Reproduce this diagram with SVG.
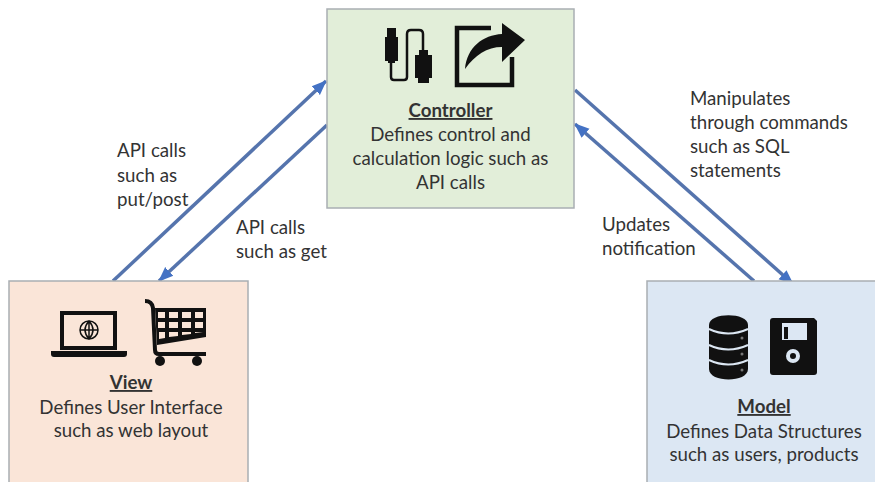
<svg xmlns="http://www.w3.org/2000/svg" width="875" height="482" viewBox="0 0 875 482">
<style>
text{font-family:Lato,"Open Sans","Liberation Sans",sans-serif;font-size:18.7px;fill:#333}
.c{text-anchor:middle}
.t{text-decoration:underline;font-weight:700}
.box{stroke:#a9aeb3;stroke-width:1.5}
.a{fill:none;stroke:#5574ad;stroke-width:3.500;marker-end:url(#ah)}
.i{fill:#111}
.l{fill:none;stroke:#111}
</style>
<defs><marker id="ah" markerUnits="userSpaceOnUse" markerWidth="16" markerHeight="14" refX="14" refY="7" orient="auto"><path d="M0 1L15 7L0 13Z" fill="#4472c4"/></marker></defs>
<rect width="875" height="482" fill="#fff"/>
<g id="connectors">
<line class="a" x1="113" y1="281" x2="326" y2="81"/>
<line class="a" x1="327" y1="125" x2="159" y2="281"/>
<line class="a" x1="575" y1="90" x2="793" y2="284"/>
<line class="a" x1="754" y1="281" x2="575" y2="124"/>
</g>
<g id="controller">
<rect class="box" x="327" y="9" width="247" height="199" fill="#e2eed9"/>
<path class="i" d="M387 28h9v9h2v24h-3v2h-7v-2h-3V37h2z"/>
<path class="l" stroke-width="2.500" d="M391 62v15q0 3 3 3h10q3 0 3-3V34q0-4 4-4h8q4 0 4 4v16"/>
<path class="i" d="M419 50h9v5h4v23h-3v5h-11v-5h-3V55h4z"/>
<path class="l" stroke-width="4.500" d="M491 28h-34v57h55V57"/>
<path class="i" d="M465 69c2-22 18-34 37-35V23l23 17-23 22V47c-15 0-27 8-37 22z"/>
<text class="c t" x="450.500" y="117">Controller</text>
<text class="c" x="450.500" y="141">Defines control and</text>
<text class="c" x="450.500" y="165">calculation logic such as</text>
<text class="c" x="450.500" y="189">API calls</text>
</g>
<g id="view">
<rect x="9" y="281" width="239" height="202" fill="#fae5d8"/>
<path class="box" d="M9 482V281H248V482" fill="none"/>
<path class="l" stroke-width="4" d="M62 313h53v35H62z"/>
<path class="i" d="M51 351h76v3q0 3-3 3H54q-3 0-3-3z"/>
<circle class="l" stroke-width="1.500" cx="89" cy="330" r="9"/>
<path class="l" stroke-width="1.500" d="M80 330h18M89 321v18M89 321q-8 9 0 18M89 321q8 9 0 18"/>
<path class="l" stroke-width="4" d="M145 301q7 0 8 7l2 42q0 4 4 4h47"/>
<path class="i" fill-rule="evenodd" d="M155 308h51v29l-49 8zM158 312v6h7v-6zM169 312v6h9v-6zM182 312v6h9v-6zM195 312v6h8v-6zM158 322v6h7v-6zM169 322v6h9v-6zM182 322v6h9v-6zM195 322v6h8v-6zM159 332v7l6-1v-6zM169 332v5l9-1v-4zM182 332v3l9-1v-2zM195 332v1l8-1z"/>
<circle class="i" cx="160" cy="361" r="5"/><circle class="i" cx="197" cy="361" r="5"/>
<text class="c t" x="131" y="389">View</text>
<text class="c" x="131" y="414">Defines User Interface</text>
<text class="c" x="131" y="437">such as web layout</text>
</g>
<g id="model">
<rect x="647" y="281" width="228" height="201" fill="#dce7f3"/>
<path class="box" d="M647 482V281H875" fill="none"/>
<path class="i" d="M709 325c0-13 39-13 39 0v44c0 14-39 14-39 0z"/>
<path fill="none" stroke="#dce7f3" stroke-width="2" d="M709 329q19 9 39 0M709 345q19 9 39 0M709 360q19 9 39 0"/>
<g fill="#777"><circle cx="742" cy="338" r="1.500"/><circle cx="742" cy="354" r="1.500"/><circle cx="742" cy="370" r="1.500"/></g>
<path class="i" d="M773 318h41l3 3v51q0 3-3 3h-41q-3 0-3-3v-51q0-3 3-3z"/>
<path fill="#dce7f3" d="M782 323h25v17h-25z"/>
<path class="i" d="M784 327h4v12h-4z"/>
<circle cx="793" cy="356" r="7" fill="#dce7f3"/><circle class="i" cx="793" cy="356" r="3"/>
<text class="c t" x="764" y="413">Model</text>
<text class="c" x="764" y="438">Defines Data Structures</text>
<text class="c" x="764" y="461">such as users, products</text>
</g>
<g id="labels">
<text x="117" y="157">API calls</text>
<text x="117" y="182">such as</text>
<text x="117" y="206">put/post</text>
<text x="236" y="234">API calls</text>
<text x="236" y="258">such as get</text>
<text x="690" y="105">Manipulates</text>
<text x="690" y="129">through commands</text>
<text x="690" y="153">such as SQL</text>
<text x="690" y="177">statements</text>
<text x="602" y="231">Updates</text>
<text x="602" y="255">notification</text>
</g>
</svg>
